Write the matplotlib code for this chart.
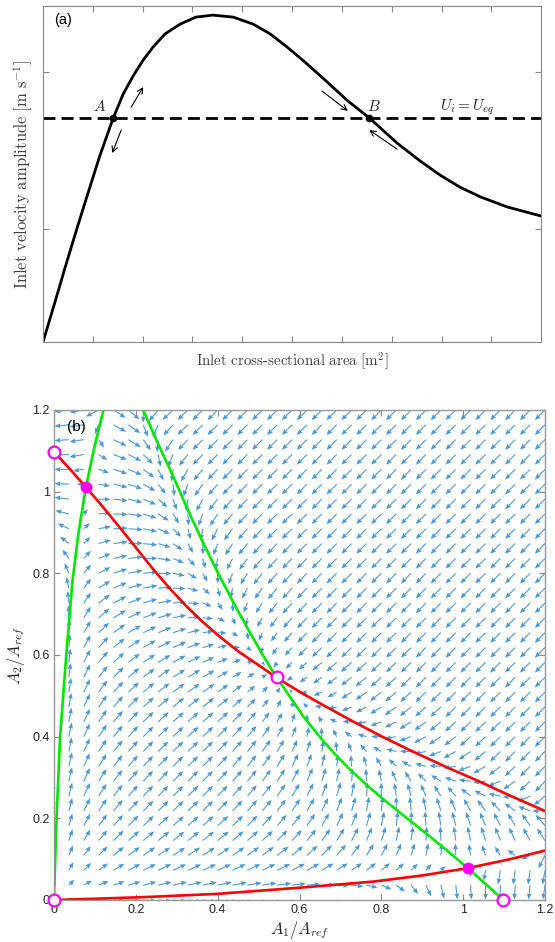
import matplotlib
matplotlib.use('Agg')
import matplotlib.pyplot as plt
import numpy as np

plt.rcParams['mathtext.fontset'] = 'cm'
plt.rcParams['font.family'] = ['Liberation Sans', 'DejaVu Sans']

# ---- panel (a): inlet velocity vs inlet area (arbitrary units)
area = [0.0, 0.024, 0.044, 0.064, 0.086, 0.114, 0.141, 0.161, 0.181, 0.201, 0.221,
        0.245, 0.275, 0.307, 0.341, 0.382, 0.422, 0.456, 0.490, 0.526, 0.566, 0.610,
        0.655, 0.711, 0.757, 0.797, 0.837, 0.878, 0.932, 1.0]
velocity = [0.0, 0.119, 0.220, 0.318, 0.423, 0.554, 0.667, 0.738, 0.792, 0.839, 0.878,
            0.917, 0.946, 0.967, 0.973, 0.967, 0.946, 0.917, 0.878, 0.833, 0.780, 0.720,
            0.667, 0.592, 0.539, 0.497, 0.461, 0.432, 0.402, 0.375]
u_eq = 0.667
eq_area = [0.141, 0.655]   # A (unstable), B (stable)

# ---- panel (b): nullcline dA2/dt = 0 (red); dA1/dt = 0 (green) is its mirror image
red_main_x = [0.0, 0.04, 0.078, 0.12, 0.16, 0.20, 0.24, 0.28, 0.32, 0.36, 0.40, 0.45,
              0.50, 0.545, 0.60, 0.66, 0.72, 0.80, 0.88, 0.96, 1.04, 1.12, 1.2]
red_main_y = [1.098, 1.054, 1.011, 0.962, 0.913, 0.863, 0.813, 0.766, 0.723, 0.684, 0.649,
              0.609, 0.575, 0.544, 0.510, 0.476, 0.443, 0.401, 0.362, 0.325, 0.290, 0.253, 0.218]
red_lo_x = [0.0, 0.1, 0.22, 0.40, 0.60, 0.78, 0.90, 1.011, 1.115, 1.2]
red_lo_y = [0.0, 0.003, 0.007, 0.015, 0.030, 0.045, 0.060, 0.078, 0.100, 0.121]

unstable_x = [0.0, 0.0, 1.098, 0.545]
unstable_y = [0.0, 1.098, 0.0, 0.545]
stable_x = [0.078, 1.011]
stable_y = [1.011, 0.078]


def growth(a, b):
    # dA/dt of one inlet: velocity curve of (a) minus U_eq, stretched so that
    # A sits on the lower nullcline branch and B on the main branch
    lo = np.interp(b, red_lo_x, red_lo_y)
    hi = np.interp(b, red_main_x, red_main_y)
    t = eq_area[0] + (a - lo) / (hi - lo) * (eq_area[1] - eq_area[0])
    return np.interp(t, area, velocity) - u_eq


g = np.linspace(0, 1.2, 34)
A1, A2 = np.meshgrid(g, g)
U = growth(A1, A2)
V = growth(A2, A1)
mag = np.hypot(U, V)
step = g[1] - g[0]
L = 0.97 * step * np.clip(mag / 0.3, 0, 1) ** 0.5
U = np.where(mag > 0, U / np.maximum(mag, 1e-12) * L, 0)
V = np.where(mag > 0, V / np.maximum(mag, 1e-12) * L, 0)

fig = plt.figure(figsize=(5.55, 9.42), dpi=100)

# ---------------- (a)
ax1 = fig.add_axes([0.0775, 0.6369, 0.8975, 0.3567])
ax1.plot(area, velocity, color='k', lw=2, solid_joinstyle='round')
ax1.axhline(u_eq, color='k', lw=2, ls=(0, (4.3, 2.2)))
ax1.plot(eq_area, [u_eq, u_eq], 'o', color='k', ms=4.5)
ax1.set_xlim(0, 1)
ax1.set_ylim(0, 1)
ax1.set_xticks(np.arange(0.1, 1.0, 0.1))
ax1.set_yticks([0.336, 0.804])
ax1.tick_params(direction='in', length=4, top=True, right=True, labelbottom=False,
                labelleft=False, color='#888888')
for s in ax1.spines.values():
    s.set_color('#888888')
    s.set_linewidth(0.8)

arr = dict(arrowstyle='->', lw=0.8, color='k', shrinkA=0, shrinkB=0)
ax1.annotate('', xy=(0.201, 0.759), xytext=(0.177, 0.699), arrowprops=arr)
ax1.annotate('', xy=(0.139, 0.5625), xytext=(0.157, 0.631), arrowprops=arr)
ax1.annotate('', xy=(0.612, 0.688), xytext=(0.560, 0.747), arrowprops=arr)
ax1.annotate('', xy=(0.655, 0.631), xytext=(0.711, 0.574), arrowprops=arr)
ax1.text(0.114, 0.70, '$A$', fontsize=11, ha='center', va='center', color='#222222')
ax1.text(0.664, 0.70, '$B$', fontsize=11, ha='center', va='center', color='#222222')
ax1.text(0.851, 0.70, '$U_i = U_{eq}$', fontsize=11, ha='center', va='center', color='#222222')
ax1.text(0.04, 0.958, '(a)', transform=ax1.transAxes, fontsize=10.5, ha='center', va='center')
ax1.set_xlabel(r'$\mathrm{Inlet\ cross\text{-}sectional\ area\ [m^2]}$', fontsize=10.8,
               color='#404040', labelpad=6)
ax1.set_ylabel(r'$\mathrm{Inlet\ velocity\ amplitude\ [m\ s^{-1}]}$', fontsize=12,
               color='#404040', labelpad=6)

# ---------------- (b)
ax2 = fig.add_axes([0.0973, 0.0446, 0.8847, 0.5202])
ax2.quiver(A1, A2, U, V, angles='xy', scale_units='xy', scale=1, color='#2f86cc',
           alpha=0.85, width=0.0022, headwidth=4.5, headlength=5.5, headaxislength=5)
ax2.plot(red_main_x, red_main_y, color='#ff0000', lw=1.9)
ax2.plot(red_lo_x, red_lo_y, color='#ff0000', lw=1.9)
ax2.plot(red_main_y, red_main_x, color='#00e600', lw=1.9)
ax2.plot(red_lo_y, red_lo_x, color='#00e600', lw=1.9)
ax2.plot(unstable_x, unstable_y, 'o', ms=8.5, mfc='white', mec='#ff00ff', mew=1.6,
         clip_on=False, zorder=5)
ax2.plot(stable_x, stable_y, 'o', ms=7.5, mfc='#ff00ff', mec='#ff00ff', zorder=5)
ax2.set_xlim(0, 1.2)
ax2.set_ylim(0, 1.2)
ticks = np.arange(0, 1.21, 0.2)
ax2.set_xticks(ticks)
ax2.set_yticks(ticks)
ax2.set_xticklabels(['0', '0.2', '0.4', '0.6', '0.8', '1', '1.2'])
ax2.set_yticklabels(['0', '0.2', '0.4', '0.6', '0.8', '1', '1.2'])
ax2.tick_params(direction='in', length=4, top=True, right=True, labelsize=9,
                color='#888888', labelcolor='#262626', pad=3)
for s in ax2.spines.values():
    s.set_color('#999999')
    s.set_linewidth(1)
ax2.text(0.045, 0.966, '(b)', transform=ax2.transAxes, fontsize=11, ha='center', va='center')
ax2.set_xlabel('$A_1/A_{ref}$', fontsize=12, color='#262626', labelpad=2)
ax2.set_ylabel('$A_2/A_{ref}$', fontsize=12, color='#262626', labelpad=4)

fig.savefig('out.png', dpi=100)
